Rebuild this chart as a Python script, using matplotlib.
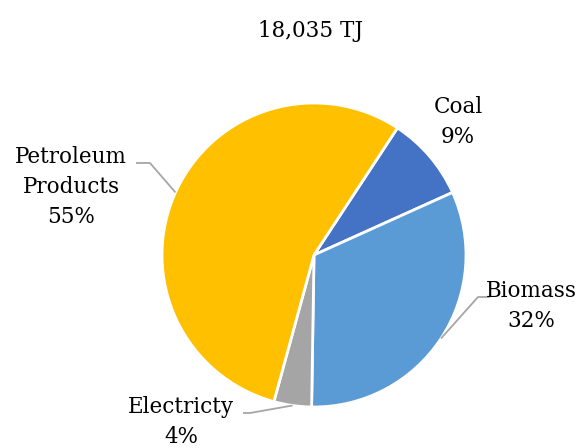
import matplotlib.pyplot as plt
import numpy as np

# Final energy consumption by source
sources = ['Coal', 'Biomass', 'Electricty', 'Petroleum\nProducts']
shares = [9, 32, 4, 55]
colors = ['#4472C4', '#5B9BD5', '#A5A5A5', '#FFC000']
total_label = '18,035 TJ'

plt.rcParams['font.family'] = ['DejaVu Serif']

fig = plt.figure(figsize=(5.87, 4.48), dpi=100)
ax = fig.add_axes([0, 0, 1, 1])

cx, cy, r = 314, 193, 152
wedges, _ = ax.pie(shares, colors=colors, startangle=56.7, counterclock=False,
                   center=(cx, cy), radius=r, frame=True,
                   wedgeprops=dict(edgecolor='white', linewidth=2))
ax.set_xlim(0, 587)
ax.set_ylim(0, 448)
ax.set_aspect('equal')
ax.axis('off')

fs = 15.5
# label position, elbow point, leader end (None = no leader)
layout = {
    'Coal': ((458, 326), None, None),
    'Biomass': ((531, 142), (478, 151), (490, 151)),
    'Electricty': ((181, 26), (250, 35), (243, 35)),
    'Petroleum\nProducts': ((71, 261), (150, 285), (136, 285)),
}

for w, name, val in zip(wedges, sources, shares):
    (tx, ty), elbow, end = layout[name]
    ax.text(tx, ty, f'{name}\n{val}%', ha='center', va='center',
            fontsize=fs, linespacing=1.45, color='black')
    if elbow is not None:
        mid = np.deg2rad((w.theta1 + w.theta2) / 2)
        px, py = cx + r * np.cos(mid), cy + r * np.sin(mid)
        ax.plot([px, elbow[0], end[0]], [py, elbow[1], end[1]],
                color='#A6A6A6', lw=1.3, solid_capstyle='butt')

ax.text(311, 417, total_label, ha='center', va='center', fontsize=fs)

fig.savefig('out.png', dpi=100)
